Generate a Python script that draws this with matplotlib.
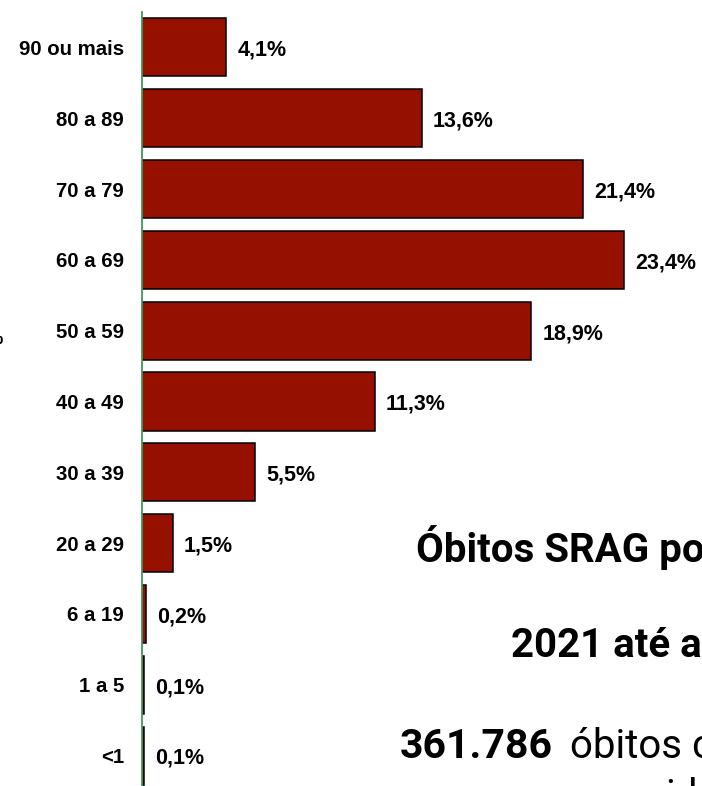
import matplotlib
matplotlib.use('Agg')
import matplotlib.pyplot as plt

plt.rcParams['font.family'] = ['Liberation Sans', 'DejaVu Sans']

faixas = ['90 ou mais', '80 a 89', '70 a 79', '60 a 69', '50 a 59', '40 a 49',
          '30 a 39', '20 a 29', '6 a 19', '1 a 5', '<1']
pct = [4.1, 13.6, 21.4, 23.4, 18.9, 11.3, 5.5, 1.5, 0.2, 0.1, 0.1]

W, H = 702, 786
fig = plt.figure(figsize=(W / 100, H / 100), dpi=100)
# axes is cut at the bottom of the picture, like the original screenshot
ax = fig.add_axes([142 / W, -5 / H, (W - 142) / W, 779 / H])

ypos = list(range(len(faixas)))
ax.barh(ypos, pct, height=0.82, color='#961000', edgecolor='black', linewidth=1.1)
for y, v in zip(ypos, pct):
    ax.text(v + 0.53, y + 0.04, f'{v:.1f}%'.replace('.', ','), va='center', ha='left',
            fontsize=15.5, fontweight='bold')

ax.set_xlim(0, (W - 142) / 20.6)
ax.set_ylim(len(faixas) - 0.5, -0.5)
ax.set_yticks(ypos)
ax.set_yticklabels(faixas, fontsize=14.7, fontweight='bold')
ax.tick_params(axis='y', length=0, pad=13)
ax.set_xticks([])
for s in ['top', 'right', 'bottom']:
    ax.spines[s].set_visible(False)
ax.spines['left'].set_color('#3f9a5c')
ax.spines['left'].set_linewidth(1.3)

# cropped label at the left border
fig.text(3 / W, 1 - 340 / H, '%', ha='right', va='center', fontsize=14, fontweight='bold')

# text box on the right, cut by the edges
rob = ['Roboto', 'DejaVu Sans']
fig.text(416 / W, 1 - 562 / H, 'Óbitos SRAG por faixa etária', family=rob,
         fontsize=29, fontweight='bold', va='baseline')
fig.text(511 / W, 1 - 657 / H, '2021 até a SE', family=rob,
         fontsize=29, fontweight='bold', va='baseline')
fig.text(400 / W, 1 - 758 / H, '361.786', family=rob,
         fontsize=29.5, fontweight='bold', va='baseline')
fig.text(570 / W, 1 - 758 / H, 'óbitos com', family=rob,
         fontsize=29, va='baseline')
fig.text(665 / W, 1 - 808 / H, 'idade', family=rob,
         fontsize=29, va='baseline')

fig.savefig('out.png', dpi=100)
